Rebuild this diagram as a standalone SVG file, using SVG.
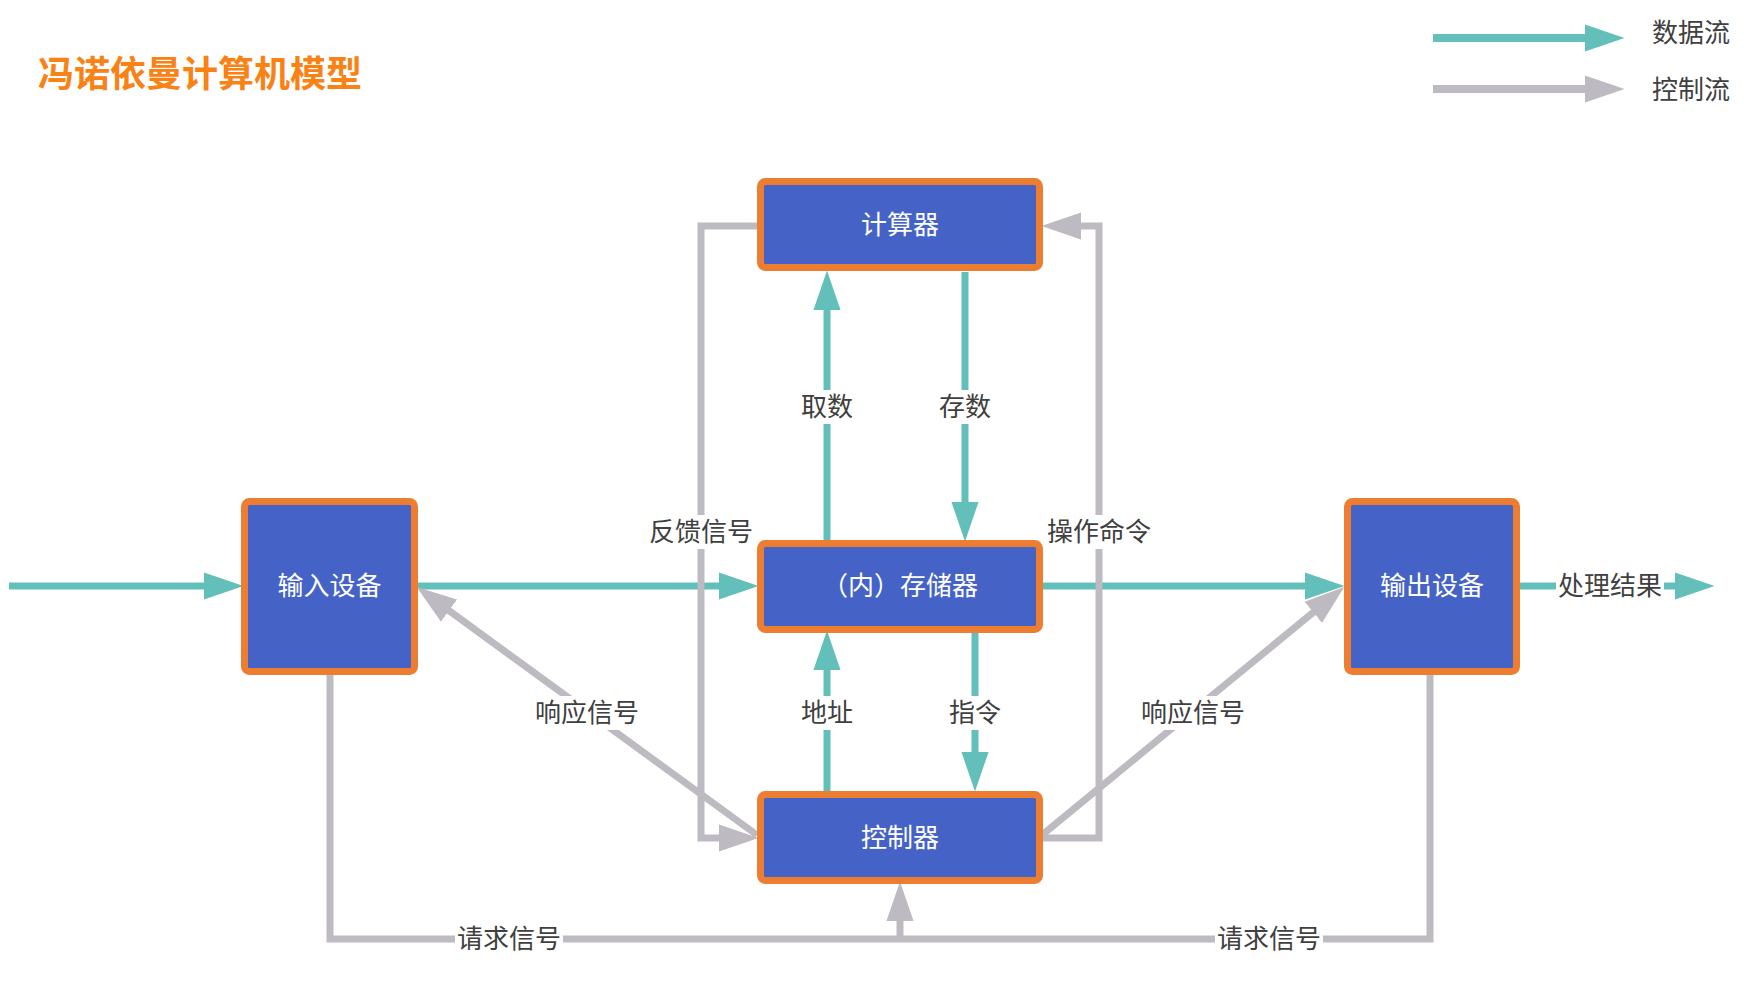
<svg xmlns="http://www.w3.org/2000/svg" width="1752" height="996" viewBox="0 0 1752 996">
<style>
.box{fill:#4563C6;stroke:#ED7D31;stroke-width:7}
.bt{font-family:"Noto Sans CJK SC","Noto Sans",sans-serif;font-size:26px;fill:#FFFFFF;text-anchor:middle}
.lb{font-family:"Noto Sans CJK SC","Noto Sans",sans-serif;font-size:26px;fill:#404040;text-anchor:middle}
.bg{fill:#FFFFFF}
.data{fill:none;stroke:#62BFB9;stroke-width:7;marker-end:url(#at)}
.ctrl{fill:none;stroke:#BDBAC2;stroke-width:7;marker-end:url(#ag)}
.ctrln{fill:none;stroke:#BDBAC2;stroke-width:7}
</style>
<defs>
<marker id="at" markerUnits="userSpaceOnUse" markerWidth="40" markerHeight="28" viewBox="0 0 38 26" refX="8" refY="13" orient="auto">
<path d="M0,0 L38,13 L0,26 z" fill="#62BFB9"/>
</marker>
<marker id="ag" markerUnits="userSpaceOnUse" markerWidth="40" markerHeight="28" viewBox="0 0 38 26" refX="8" refY="13" orient="auto">
<path d="M0,0 L38,13 L0,26 z" fill="#BDBAC2"/>
</marker>
</defs>
<rect width="1752" height="996" fill="#FFFFFF"/>
<text x="38" y="87" font-family="'Noto Sans CJK SC','Noto Sans',sans-serif" font-size="36" font-weight="bold" fill="#FA8214">冯诺依曼计算机模型</text>
<g id="legend">
<path d="M1433,38 H1593" class="data" style="stroke-width:8"/>
<path d="M1433,89 H1593" class="ctrl" style="stroke-width:8"/>
<text x="1652" y="42" class="lb" style="text-anchor:start">数据流</text>
<text x="1652" y="99" class="lb" style="text-anchor:start">控制流</text>
</g>
<g id="connectors">
<path d="M9,586 H212" class="data"/>
<path d="M418,586 H727" class="data"/>
<path d="M1042,586 H1313" class="data"/>
<path d="M1520,586 H1683" class="data"/>
<path d="M827,541 V302" class="data"/>
<path d="M965,272 V510" class="data"/>
<path d="M827,791 V662" class="data"/>
<path d="M975,632 V760" class="data"/>
<path d="M757,226 H701 V838 H727" class="ctrl"/>
<path d="M1042,838 H1099 V226 H1073" class="ctrl"/>
<path d="M757,835 L442.2,605.7" class="ctrl"/>
<path d="M1042,835 L1319.8,607" class="ctrl"/>
<path d="M330,675 V939 H1430 V675" class="ctrln"/>
<path d="M900,939 V913" class="ctrl"/>
<rect class="bg" x="799" y="390" width="56" height="34"/>
<text x="827" y="416" class="lb">取数</text>
<rect class="bg" x="937" y="390" width="56" height="34"/>
<text x="965" y="416" class="lb">存数</text>
<rect class="bg" x="799" y="696" width="56" height="34"/>
<text x="827" y="722" class="lb">地址</text>
<rect class="bg" x="947" y="696" width="56" height="34"/>
<text x="975" y="722" class="lb">指令</text>
<rect class="bg" x="647" y="515" width="108" height="34"/>
<text x="701" y="541" class="lb">反馈信号</text>
<rect class="bg" x="1045" y="515" width="108" height="34"/>
<text x="1099" y="541" class="lb">操作命令</text>
<rect class="bg" x="533" y="696" width="108" height="34"/>
<text x="587" y="722" class="lb">响应信号</text>
<rect class="bg" x="1139" y="696" width="108" height="34"/>
<text x="1193" y="722" class="lb">响应信号</text>
<rect class="bg" x="455" y="922" width="108" height="34"/>
<text x="509" y="948" class="lb">请求信号</text>
<rect class="bg" x="1215" y="922" width="108" height="34"/>
<text x="1269" y="948" class="lb">请求信号</text>
<rect class="bg" x="1556" y="569" width="108" height="34"/>
<text x="1610" y="595" class="lb">处理结果</text>
</g>
<g id="node-calc">
<rect class="box" x="760.5" y="181.5" width="279" height="86" rx="5"/>
<text x="900" y="234" class="bt">计算器</text>
</g>
<g id="node-memory">
<rect class="box" x="760.5" y="543.5" width="279" height="86" rx="5"/>
<text x="900" y="595" class="bt">（内）存储器</text>
</g>
<g id="node-control">
<rect class="box" x="760.5" y="794.5" width="279" height="86" rx="5"/>
<text x="900" y="847" class="bt">控制器</text>
</g>
<g id="node-input">
<rect class="box" x="244.5" y="501.5" width="170" height="170" rx="5"/>
<text x="329.5" y="595" class="bt">输入设备</text>
</g>
<g id="node-output">
<rect class="box" x="1347.5" y="501.5" width="169" height="170" rx="5"/>
<text x="1432" y="595" class="bt">输出设备</text>
</g>
</svg>
